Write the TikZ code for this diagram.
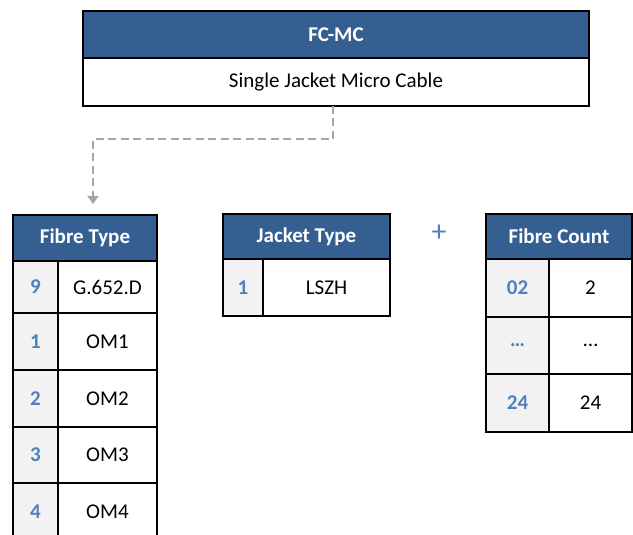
\documentclass[tikz,border=0pt]{standalone}
\usepackage{fontspec}
\setmainfont{Carlito}
\usetikzlibrary{arrows.meta}
\definecolor{hdrblue}{HTML}{365F91}
\definecolor{keyblue}{HTML}{4F81BD}
\definecolor{keygrey}{HTML}{F2F2F2}
\definecolor{linkgrey}{HTML}{A6A6A6}

\begin{document}
\begin{tikzpicture}[x=1pt,y=-1pt,
  every node/.style={inner sep=0pt,outer sep=0pt,font=\fontsize{21}{25}\selectfont},
  cell/.style 2 args={draw=black,line width=1.6pt,minimum width=#1,minimum height=#2},
  hdr/.style 2 args={cell={#1}{#2},fill=hdrblue,text=white,font=\fontsize{21}{25}\selectfont\bfseries},
  keycell/.style 2 args={cell={#1}{#2},fill=keygrey,text=keyblue,font=\fontsize{21}{25}\selectfont\bfseries},
  valcell/.style 2 args={cell={#1}{#2},fill=white}]
\useasboundingbox (0,0) rectangle (633,535);
% product code box
\node[hdr={506pt}{47pt}] (mchdr) at (336,34.5) {FC-MC};
\node[valcell={506pt}{48pt}] (mcbody) at (336,82) {Single Jacket Micro Cable};
% fibre type
\node[hdr={144pt}{46pt}] (fibhdr) at (85,238) {Fibre Type};
\node[keycell={45pt}{52pt}] (fibk9) at (35.5,287) {9};
\node[valcell={99pt}{52pt}] (fibv9) at (107.5,287) {G.652.D};
\node[keycell={45pt}{57pt}] (fibk1) at (35.5,341.5) {1};
\node[valcell={99pt}{57pt}] (fibv1) at (107.5,341.5) {OM1};
\node[keycell={45pt}{57pt}] (fibk2) at (35.5,398.5) {2};
\node[valcell={99pt}{57pt}] (fibv2) at (107.5,398.5) {OM2};
\node[keycell={45pt}{56pt}] (fibk3) at (35.5,455) {3};
\node[valcell={99pt}{56pt}] (fibv3) at (107.5,455) {OM3};
\node[keycell={45pt}{57pt}] (fibk4) at (35.5,511.5) {4};
\node[valcell={99pt}{57pt}] (fibv4) at (107.5,511.5) {OM4};
% jacket type
\node[hdr={167pt}{45pt}] (jackhdr) at (306.5,236.5) {Jacket Type};
\node[keycell={40pt}{57pt}] (jackk1) at (243,287.5) {1};
\node[valcell={127pt}{57pt}] (jackv1) at (326.5,287.5) {LSZH};
\node[text=keyblue,font=\fontsize{30}{30}\selectfont] (plus) at (439,233) {+};
% fibre count
\node[hdr={146pt}{45pt}] (cnthdr) at (559,236.5) {Fibre Count};
\node[keycell={63pt}{58pt}] (cntk02) at (517.5,288) {02};
\node[valcell={83pt}{58pt}] (cntv02) at (590.5,288) {2};
\node[keycell={63pt}{57pt}] (cntkdots) at (517.5,345.5) {…};
\node[valcell={83pt}{57pt}] (cntvdots) at (590.5,345.5) {…};
\node[keycell={63pt}{58pt}] (cntk24) at (517.5,403) {24};
\node[valcell={83pt}{58pt}] (cntv24) at (590.5,403) {24};
% link to fibre type
\coordinate (fibtip) at (93,204);
\draw[linkgrey,line width=1.6pt,dash pattern=on 8pt off 4.5pt,
  -{Triangle[length=8pt,width=11pt]}]
  ([xshift=-3pt]mcbody.south) |- (93,139) -- (fibtip);
\end{tikzpicture}
\end{document}
